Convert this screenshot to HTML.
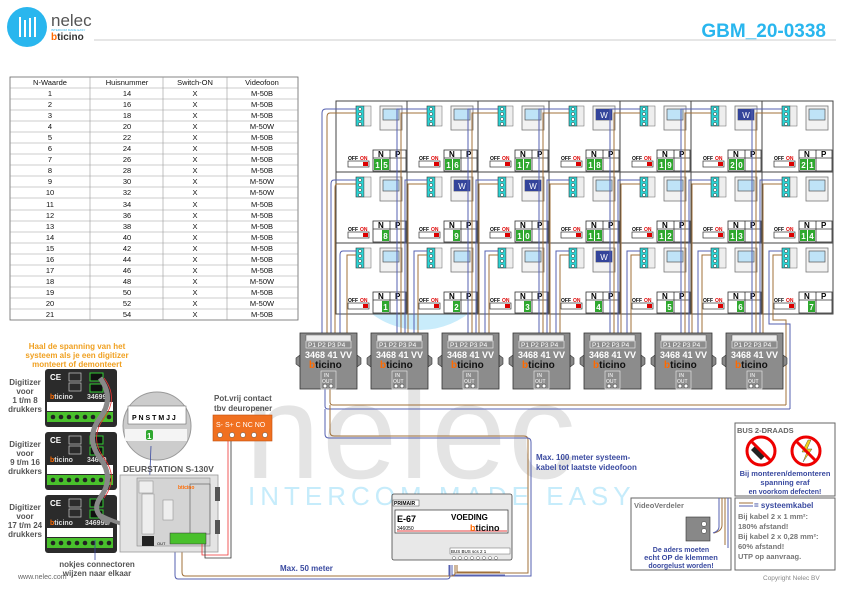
<!DOCTYPE html>
<html><head><meta charset="utf-8"><style>
html,body{margin:0;padding:0;background:#fff}
svg{display:block}
text{font-family:"Liberation Sans",Arial,sans-serif}
</style></head><body>
<svg width="841" height="595" viewBox="0 0 841 595" xmlns="http://www.w3.org/2000/svg">
<defs>
<g id="cell">
  <rect x="0" y="0" width="71" height="71" fill="#fff" stroke="#444" stroke-width="1"/>
  <rect x="20" y="5" width="8" height="20" fill="#2ad4d4" stroke="#333" stroke-width="0.6"/>
  <circle cx="24" cy="8" r="1.6" fill="#fff" stroke="#333" stroke-width="0.5"/>
  <circle cx="24" cy="13" r="1.6" fill="#fff" stroke="#333" stroke-width="0.5"/>
  <circle cx="24" cy="18" r="1.6" fill="#fff" stroke="#333" stroke-width="0.5"/>
  <circle cx="24" cy="23" r="1.6" fill="#fff" stroke="#333" stroke-width="0.5"/>
  <rect x="28" y="5" width="7" height="20" fill="#eee" stroke="#666" stroke-width="0.5"/>
  <rect x="44" y="5" width="22" height="24" fill="#f2f2f2" stroke="#777" stroke-width="0.8"/>
  <rect x="47" y="8" width="16" height="11" fill="#bfe3f7" stroke="#555" stroke-width="0.7"/>
  <rect x="37" y="49" width="33" height="21" fill="#fff" stroke="#333" stroke-width="0.8"/>
  <line x1="54" y1="49" x2="54" y2="70" stroke="#333" stroke-width="0.8"/>
  <line x1="37" y1="57" x2="70" y2="57" stroke="#333" stroke-width="0.8"/>
  <text x="42" y="56" font-size="8" font-weight="bold">N</text>
  <text x="59" y="56" font-size="8" font-weight="bold">P</text>
  <rect x="12" y="60" width="21" height="6" fill="#fff" stroke="#333" stroke-width="0.7"/>
  <rect x="27" y="61" width="5" height="4" fill="#d00"/>
  <text x="12" y="59" font-size="5" font-weight="bold">OFF</text>
  <text x="24" y="59" font-size="5" font-weight="bold" fill="#d00">ON</text>
</g>
<g id="mod">
  <path d="M0 22 l-4 3 v6 l4 3 Z M57 22 l4 3 v6 l-4 3 Z" fill="#888" stroke="#333" stroke-width="0.6"/>
  <rect x="0" y="0" width="57" height="56" fill="#8c8c8c" stroke="#333" stroke-width="0.8"/>
  <rect x="6" y="2" width="45" height="6" fill="#eee" stroke="#444" stroke-width="0.4"/>
  <rect x="6" y="8" width="45" height="7" fill="#8c8c8c" stroke="#eee" stroke-width="0.6"/>
  <text x="8" y="14" font-size="6.5" fill="#fff">P1 P2 P3 P4</text>
  <text x="5" y="25" font-size="9" font-weight="bold" fill="#fff">3468 41  VV</text>
  <text x="9" y="35" font-size="10" font-weight="bold" fill="#ff6a00">b<tspan fill="#111">ticino</tspan></text>
  <rect x="21" y="38" width="15" height="18" fill="#8c8c8c" stroke="#eee" stroke-width="0.6"/>
  <text x="24" y="44" font-size="5" fill="#fff">IN</text>
  <text x="22" y="50" font-size="5" fill="#fff">OUT</text>
  <circle cx="25" cy="53" r="2" fill="#fff" stroke="#333" stroke-width="0.5"/>
  <circle cx="31" cy="53" r="2" fill="#fff" stroke="#333" stroke-width="0.5"/>
</g>
<g id="dig">
  <rect x="0" y="0" width="72" height="58" rx="3" fill="#2b2b2b"/>
  <text x="5" y="11" font-size="8" font-weight="bold" fill="#fff">CE</text>
  <rect x="24" y="4" width="12" height="8" fill="none" stroke="#ccc" stroke-width="0.7"/>
  <rect x="24" y="14" width="12" height="8" fill="none" stroke="#ccc" stroke-width="0.7"/>
  <rect x="45" y="4" width="13" height="8" fill="#111" stroke="#3c3" stroke-width="1"/>
  <rect x="45" y="15" width="13" height="8" fill="#111" stroke="#3c3" stroke-width="1"/>
  <text x="5" y="30" font-size="7" font-weight="bold" fill="#ff6a00">b<tspan fill="#ddd">ticino</tspan></text>
  <rect x="2" y="33" width="66" height="9" fill="#fff"/>
  <rect x="2" y="43" width="66" height="10" fill="#49c02c"/>
  <g fill="#222"><circle cx="8" cy="48" r="2.3"/><circle cx="16" cy="48" r="2.3"/><circle cx="24" cy="48" r="2.3"/><circle cx="32" cy="48" r="2.3"/><circle cx="40" cy="48" r="2.3"/><circle cx="48" cy="48" r="2.3"/><circle cx="56" cy="48" r="2.3"/><circle cx="64" cy="48" r="2.3"/></g>
</g>
</defs>

<!-- header -->
<circle cx="27" cy="27" r="20" fill="#29b6ee"/>
<path d="M20 17v20M25 20v17M30 18v19M35 17v20" stroke="#fff" stroke-width="2"/>
<text x="51" y="26" font-size="17" fill="#555">nelec</text>
<text x="51" y="31" font-size="3" fill="#29b6ee">INTERCOM MADE EASY</text>
<text x="51" y="40" font-size="10" font-weight="bold" fill="#ff6a00">b<tspan fill="#333">ticino</tspan></text>
<line x1="94" y1="40" x2="836" y2="40" stroke="#ccc" stroke-width="1"/>
<text x="826" y="37" font-size="19" font-weight="bold" fill="#29b6ee" text-anchor="end">GBM_20-0338</text>

<!-- watermark -->
<circle cx="420" cy="250" r="80" fill="#c9ecfb"/>
<text x="245" y="478" font-size="135" fill="#e4e4e4" letter-spacing="2">nelec</text>
<text x="248" y="505" font-size="26" fill="#c6ecfb" letter-spacing="5">INTERCOM MADE EASY</text>

<!-- table -->
<g font-size="7.5" text-anchor="middle" fill="#111">
<rect x="10" y="77" width="288" height="243" fill="#fff" stroke="#666" stroke-width="0.8"/>
<g stroke="#999" stroke-width="0.6">
<line x1="90" y1="77" x2="90" y2="320"/><line x1="163" y1="77" x2="163" y2="320"/><line x1="227" y1="77" x2="227" y2="320"/>
<line x1="10" y1="88" x2="298" y2="88"/><line x1="10" y1="99" x2="298" y2="99"/><line x1="10" y1="110" x2="298" y2="110"/><line x1="10" y1="121" x2="298" y2="121"/><line x1="10" y1="132" x2="298" y2="132"/><line x1="10" y1="143" x2="298" y2="143"/><line x1="10" y1="154" x2="298" y2="154"/><line x1="10" y1="165" x2="298" y2="165"/><line x1="10" y1="176" x2="298" y2="176"/><line x1="10" y1="187" x2="298" y2="187"/><line x1="10" y1="198" x2="298" y2="198"/><line x1="10" y1="210" x2="298" y2="210"/><line x1="10" y1="221" x2="298" y2="221"/><line x1="10" y1="232" x2="298" y2="232"/><line x1="10" y1="243" x2="298" y2="243"/><line x1="10" y1="254" x2="298" y2="254"/><line x1="10" y1="265" x2="298" y2="265"/><line x1="10" y1="276" x2="298" y2="276"/><line x1="10" y1="287" x2="298" y2="287"/><line x1="10" y1="298" x2="298" y2="298"/><line x1="10" y1="309" x2="298" y2="309"/>
</g>
<text x="50" y="85">N-Waarde</text><text x="127" y="85">Huisnummer</text><text x="195" y="85">Switch-ON</text><text x="262" y="85">Videofoon</text>
<text x="50" y="96">1</text><text x="127" y="96">14</text><text x="195" y="96">X</text><text x="262" y="96">M-50B</text>
<text x="50" y="107">2</text><text x="127" y="107">16</text><text x="195" y="107">X</text><text x="262" y="107">M-50B</text>
<text x="50" y="118">3</text><text x="127" y="118">18</text><text x="195" y="118">X</text><text x="262" y="118">M-50B</text>
<text x="50" y="129">4</text><text x="127" y="129">20</text><text x="195" y="129">X</text><text x="262" y="129">M-50W</text>
<text x="50" y="140">5</text><text x="127" y="140">22</text><text x="195" y="140">X</text><text x="262" y="140">M-50B</text>
<text x="50" y="151">6</text><text x="127" y="151">24</text><text x="195" y="151">X</text><text x="262" y="151">M-50B</text>
<text x="50" y="162">7</text><text x="127" y="162">26</text><text x="195" y="162">X</text><text x="262" y="162">M-50B</text>
<text x="50" y="173">8</text><text x="127" y="173">28</text><text x="195" y="173">X</text><text x="262" y="173">M-50B</text>
<text x="50" y="184">9</text><text x="127" y="184">30</text><text x="195" y="184">X</text><text x="262" y="184">M-50W</text>
<text x="50" y="195">10</text><text x="127" y="195">32</text><text x="195" y="195">X</text><text x="262" y="195">M-50W</text>
<text x="50" y="207">11</text><text x="127" y="207">34</text><text x="195" y="207">X</text><text x="262" y="207">M-50B</text>
<text x="50" y="218">12</text><text x="127" y="218">36</text><text x="195" y="218">X</text><text x="262" y="218">M-50B</text>
<text x="50" y="229">13</text><text x="127" y="229">38</text><text x="195" y="229">X</text><text x="262" y="229">M-50B</text>
<text x="50" y="240">14</text><text x="127" y="240">40</text><text x="195" y="240">X</text><text x="262" y="240">M-50B</text>
<text x="50" y="251">15</text><text x="127" y="251">42</text><text x="195" y="251">X</text><text x="262" y="251">M-50B</text>
<text x="50" y="262">16</text><text x="127" y="262">44</text><text x="195" y="262">X</text><text x="262" y="262">M-50B</text>
<text x="50" y="273">17</text><text x="127" y="273">46</text><text x="195" y="273">X</text><text x="262" y="273">M-50B</text>
<text x="50" y="284">18</text><text x="127" y="284">48</text><text x="195" y="284">X</text><text x="262" y="284">M-50W</text>
<text x="50" y="295">19</text><text x="127" y="295">50</text><text x="195" y="295">X</text><text x="262" y="295">M-50B</text>
<text x="50" y="306">20</text><text x="127" y="306">52</text><text x="195" y="306">X</text><text x="262" y="306">M-50W</text>
<text x="50" y="317">21</text><text x="127" y="317">54</text><text x="195" y="317">X</text><text x="262" y="317">M-50B</text>
</g>

<!-- grid cells -->
<g>
<use href="#cell" x="336" y="101"/><use href="#cell" x="407" y="101"/><use href="#cell" x="478" y="101"/><use href="#cell" x="549" y="101"/><use href="#cell" x="620" y="101"/><use href="#cell" x="691" y="101"/><use href="#cell" x="762" y="101"/>
<use href="#cell" x="336" y="172"/><use href="#cell" x="407" y="172"/><use href="#cell" x="478" y="172"/><use href="#cell" x="549" y="172"/><use href="#cell" x="620" y="172"/><use href="#cell" x="691" y="172"/><use href="#cell" x="762" y="172"/>
<use href="#cell" x="336" y="243"/><use href="#cell" x="407" y="243"/><use href="#cell" x="478" y="243"/><use href="#cell" x="549" y="243"/><use href="#cell" x="620" y="243"/><use href="#cell" x="691" y="243"/><use href="#cell" x="762" y="243"/>
</g>
<!-- W screens -->
<g font-size="8" fill="#fff" text-anchor="middle">
<rect x="596" y="109" width="16" height="11" fill="#33449a"/><text x="604" y="118">W</text>
<rect x="738" y="109" width="16" height="11" fill="#33449a"/><text x="746" y="118">W</text>
<rect x="454" y="180" width="16" height="11" fill="#33449a"/><text x="462" y="189">W</text>
<rect x="525" y="180" width="16" height="11" fill="#33449a"/><text x="533" y="189">W</text>
<rect x="596" y="251" width="16" height="11" fill="#33449a"/><text x="604" y="260">W</text>
</g>
<!-- digits -->
<g font-size="8" font-weight="bold" fill="#fff" text-anchor="middle">
<g fill="#2fa82f">
<rect x="374" y="159" width="7" height="11"/><rect x="382" y="159" width="7" height="11"/>
<rect x="445" y="159" width="7" height="11"/><rect x="453" y="159" width="7" height="11"/>
<rect x="516" y="159" width="7" height="11"/><rect x="524" y="159" width="7" height="11"/>
<rect x="587" y="159" width="7" height="11"/><rect x="595" y="159" width="7" height="11"/>
<rect x="658" y="159" width="7" height="11"/><rect x="666" y="159" width="7" height="11"/>
<rect x="729" y="159" width="7" height="11"/><rect x="737" y="159" width="7" height="11"/>
<rect x="800" y="159" width="7" height="11"/><rect x="808" y="159" width="7" height="11"/>
<rect x="382" y="230" width="7" height="11"/>
<rect x="453" y="230" width="7" height="11"/>
<rect x="516" y="230" width="7" height="11"/><rect x="524" y="230" width="7" height="11"/>
<rect x="587" y="230" width="7" height="11"/><rect x="595" y="230" width="7" height="11"/>
<rect x="658" y="230" width="7" height="11"/><rect x="666" y="230" width="7" height="11"/>
<rect x="729" y="230" width="7" height="11"/><rect x="737" y="230" width="7" height="11"/>
<rect x="800" y="230" width="7" height="11"/><rect x="808" y="230" width="7" height="11"/>
<rect x="382" y="301" width="7" height="11"/><rect x="453" y="301" width="7" height="11"/><rect x="524" y="301" width="7" height="11"/><rect x="595" y="301" width="7" height="11"/><rect x="666" y="301" width="7" height="11"/><rect x="737" y="301" width="7" height="11"/><rect x="808" y="301" width="7" height="11"/>
</g>
<text x="377.5" y="168">1</text><text x="385.5" y="168">5</text>
<text x="448.5" y="168">1</text><text x="456.5" y="168">6</text>
<text x="519.5" y="168">1</text><text x="527.5" y="168">7</text>
<text x="590.5" y="168">1</text><text x="598.5" y="168">8</text>
<text x="661.5" y="168">1</text><text x="669.5" y="168">9</text>
<text x="732.5" y="168">2</text><text x="740.5" y="168">0</text>
<text x="803.5" y="168">2</text><text x="811.5" y="168">1</text>
<text x="385.5" y="239">8</text><text x="456.5" y="239">9</text>
<text x="519.5" y="239">1</text><text x="527.5" y="239">0</text>
<text x="590.5" y="239">1</text><text x="598.5" y="239">1</text>
<text x="661.5" y="239">1</text><text x="669.5" y="239">2</text>
<text x="732.5" y="239">1</text><text x="740.5" y="239">3</text>
<text x="803.5" y="239">1</text><text x="811.5" y="239">4</text>
<text x="385.5" y="310">1</text><text x="456.5" y="310">2</text><text x="527.5" y="310">3</text><text x="598.5" y="310">4</text><text x="669.5" y="310">5</text><text x="740.5" y="310">6</text><text x="811.5" y="310">7</text>
</g>

<!-- cell wiring -->
<g fill="none" stroke-width="1">
<g stroke="#5560b0">
<path d="M356 109H326q-4 0-4 4V333"/><path d="M356 180H334q-3 0-3 4V333"/><path d="M356 251H343q-3 0-3 4V333"/>
<path d="M427 109H397V333"/><path d="M427 180H405V333"/><path d="M427 251H414V333"/>
<path d="M498 109H468V333"/><path d="M498 180H476V333"/><path d="M498 251H485V333"/>
<path d="M569 109H539V333"/><path d="M569 180H547V333"/><path d="M569 251H556V333"/>
<path d="M640 109H610V333"/><path d="M640 180H618V333"/><path d="M640 251H627V333"/>
<path d="M711 109H681V333"/><path d="M711 180H689V333"/><path d="M711 251H698V333"/>
<path d="M782 109H752V333"/><path d="M782 180H760V333"/><path d="M782 251H769V324H790V409"/>
</g>
<g stroke="#a0703a">
<path d="M356 113H330q-3 0-3 4V333"/><path d="M356 184H337q-2 0-2 4V333"/><path d="M356 255H347V333"/>
<path d="M427 113H401V333"/><path d="M427 184H408V333"/><path d="M427 255H418V333"/>
<path d="M498 113H472V333"/><path d="M498 184H479V333"/><path d="M498 255H489V333"/>
<path d="M569 113H543V333"/><path d="M569 184H550V333"/><path d="M569 255H560V333"/>
<path d="M640 113H614V333"/><path d="M640 184H621V333"/><path d="M640 255H631V333"/>
<path d="M711 113H685V333"/><path d="M711 184H692V333"/><path d="M711 255H702V333"/>
<path d="M782 113H756V333"/><path d="M782 184H763V333"/><path d="M782 255H773V320H786V405"/>
</g>
<!-- bus -->
<path d="M330 388V402q0 3 3 3H786" stroke="#a0703a"/>
<path d="M325 388V406q0 3 3 3H790" stroke="#5560b0"/>
<path d="M330 405V432q0 4 4 4H524q4 0 4 4V573H455V565" stroke="#a0703a"/>
<path d="M325 409V434q0 4 4 4H527q4 0 4 4V576H449V565" stroke="#5560b0"/>
<path d="M457 565V572H500" stroke="#a0703a"/>
<path d="M452 565V575H505" stroke="#5560b0"/>
<path d="M455 565V573q0 3-3 3H185q-3 0-3-4V545" stroke="#a0703a"/>
<path d="M450 565V576q0 3-3 3H178q-3 0-3-4V545" stroke="#5560b0"/>
</g>

<!-- modules -->
<use href="#mod" x="300" y="333"/><use href="#mod" x="371" y="333"/><use href="#mod" x="442" y="333"/><use href="#mod" x="513" y="333"/><use href="#mod" x="584" y="333"/><use href="#mod" x="655" y="333"/><use href="#mod" x="726" y="333"/>

<!-- left digitizers -->
<text x="77" y="349" font-size="8" font-weight="bold" fill="#f0a020" text-anchor="middle">Haal de spanning van het</text>
<text x="77" y="358" font-size="8" font-weight="bold" fill="#f0a020" text-anchor="middle">systeem als je een digitizer</text>
<text x="77" y="367" font-size="8" font-weight="bold" fill="#f0a020" text-anchor="middle">monteert of demonteert</text>
<use href="#dig" x="45" y="369"/><use href="#dig" x="45" y="432"/><use href="#dig" x="45" y="495"/>
<g font-size="7" font-weight="bold" fill="#ddd"><text x="87" y="399">34699</text><text x="87" y="462">34699</text><text x="85" y="525">346993</text></g>
<g font-size="8" font-weight="bold" fill="#555" text-anchor="middle">
<text x="25" y="385">Digitizer</text><text x="25" y="394">voor</text><text x="25" y="403">1 t/m 8</text><text x="25" y="412">drukkers</text>
<text x="25" y="447">Digitizer</text><text x="25" y="456">voor</text><text x="25" y="465">9 t/m 16</text><text x="25" y="474">drukkers</text>
<text x="25" y="510">Digitizer</text><text x="25" y="519">voor</text><text x="25" y="528">17 t/m 24</text><text x="25" y="537">drukkers</text>
</g>
<path d="M100 378q15 20 0 40q-15 20 0 40q15 20 0 40q-10 15 10 25" fill="none" stroke="#888" stroke-width="5"/>
<path d="M104 378q15 20 0 40q-15 20 0 40q15 20 0 40" fill="none" stroke="#e33" stroke-width="0.8"/>
<path d="M100 515q20 10 45 15" fill="none" stroke="#888" stroke-width="4"/>
<text x="97" y="567" font-size="8" font-weight="bold" fill="#555" text-anchor="middle">nokjes connectoren</text>
<text x="97" y="576" font-size="8" font-weight="bold" fill="#555" text-anchor="middle">wijzen naar elkaar</text>
<line x1="95" y1="540" x2="95" y2="560" stroke="#3a4aa0" stroke-width="0.8"/>
<text x="18" y="579" font-size="7" fill="#666">www.nelec.com</text>

<!-- magnifier -->
<circle cx="157" cy="426" r="34" fill="#ccc" stroke="#999" stroke-width="1"/>
<rect x="128" y="406" width="58" height="18" fill="#fff" stroke="#555" stroke-width="0.5"/>
<text x="132" y="420" font-size="7" font-weight="bold">P  N  S T M J J</text>
<rect x="125" y="429" width="62" height="12" fill="#f4f4f4"/>
<rect x="146" y="430" width="7" height="10" rx="2" fill="#2fa82f"/>
<text x="147" y="439" font-size="8" font-weight="bold" fill="#fff">1</text>
<line x1="151" y1="446" x2="148" y2="520" stroke="#3a4aa0" stroke-width="0.8"/>

<!-- deurstation -->
<text x="123" y="472" font-size="8.5" font-weight="bold" fill="#555">DEURSTATION S-130V</text>
<rect x="120" y="475" width="98" height="77" fill="#e4e4e4" stroke="#999" stroke-width="0.8"/>
<rect x="137" y="478" width="73" height="68" fill="#d4d4d4" stroke="#888" stroke-width="0.6"/>
<rect x="139" y="481" width="14" height="12" fill="#eee" stroke="#888" stroke-width="0.5"/>
<rect x="142" y="494" width="12" height="40" fill="#eee" stroke="#888" stroke-width="0.5"/>
<rect x="163" y="500" width="10" height="20" fill="#eee" stroke="#888" stroke-width="0.5"/>
<rect x="190" y="484" width="20" height="50" fill="none" stroke="#666" stroke-width="0.7"/>
<text x="178" y="489" font-size="5" font-weight="bold" fill="#ff6a00">bticino</text>
<rect x="215" y="487" width="5" height="14" fill="#555"/><rect x="215" y="520" width="5" height="14" fill="#555"/>
<rect x="142" y="536" width="12" height="10" fill="#222"/>
<text x="157" y="545" font-size="4">OUT</text>
<rect x="170" y="533" width="36" height="11" fill="#49c02c" stroke="#333" stroke-width="0.5"/>
<path d="M202 544V555H228V440" fill="none" stroke="#e33" stroke-width="0.8"/>
<path d="M205 544V558H231V440" fill="none" stroke="#333" stroke-width="0.8"/>

<!-- pot vrij -->
<text x="214" y="401" font-size="8" font-weight="bold" fill="#555">Pot.vrij contact</text>
<text x="214" y="411" font-size="8" font-weight="bold" fill="#555">tbv deuropener</text>
<rect x="213" y="415" width="59" height="26" fill="#f07020" stroke="#c05010" stroke-width="0.6"/>
<text x="216" y="427" font-size="7" fill="#fff">S-  S+ C NC NO</text>
<g fill="#fff" stroke="#555" stroke-width="0.5"><circle cx="220" cy="435" r="2.5"/><circle cx="232" cy="435" r="2.5"/><circle cx="243" cy="435" r="2.5"/><circle cx="254" cy="435" r="2.5"/><circle cx="265" cy="435" r="2.5"/></g>

<!-- voeding -->
<rect x="392" y="494" width="120" height="66" rx="2" fill="#e8e8e8" stroke="#444" stroke-width="0.8"/>
<rect x="393" y="500" width="26" height="6" fill="#fff" stroke="#444" stroke-width="0.5"/>
<text x="394" y="505" font-size="5" font-weight="bold">PRIMAIR</text>
<rect x="395" y="510" width="113" height="23" fill="#fff" stroke="#333" stroke-width="0.7"/>
<line x1="397" y1="531" x2="507" y2="531" stroke="#d00" stroke-width="0.8"/>
<text x="397" y="522" font-size="9" font-weight="bold">E-67</text>
<text x="451" y="520" font-size="8" font-weight="bold">VOEDING</text>
<text x="397" y="530" font-size="5">346050</text>
<text x="470" y="531" font-size="9" font-weight="bold" fill="#ff6a00">b<tspan fill="#111">ticino</tspan></text>
<rect x="450" y="548" width="60" height="6" fill="#fff" stroke="#444" stroke-width="0.4"/>
<text x="451" y="553" font-size="4.5">BUS BUS scs 2 1</text>
<g fill="#fff" stroke="#444" stroke-width="0.4"><circle cx="454" cy="558" r="1.5"/><circle cx="460" cy="558" r="1.5"/><circle cx="466" cy="558" r="1.5"/><circle cx="472" cy="558" r="1.5"/><circle cx="478" cy="558" r="1.5"/><circle cx="484" cy="558" r="1.5"/><circle cx="490" cy="558" r="1.5"/><circle cx="496" cy="558" r="1.5"/></g>

<text x="280" y="571" font-size="8" font-weight="bold" fill="#3a4aa0">Max. 50 meter</text>
<text x="536" y="460" font-size="8" font-weight="bold" fill="#3a4aa0">Max. 100 meter systeem-</text>
<text x="536" y="470" font-size="8" font-weight="bold" fill="#3a4aa0">kabel tot laatste videofoon</text>

<!-- right boxes -->
<rect x="735" y="423" width="100" height="73" fill="#fff" stroke="#666" stroke-width="1"/>
<text x="737" y="433" font-size="7.5" font-weight="bold" fill="#666">BUS 2-DRAADS</text>
<circle cx="761" cy="451" r="14" fill="#fff" stroke="#e00" stroke-width="3"/>
<path d="M755 446l10 10-4 4-10-10z" fill="#222"/>
<line x1="751" y1="441" x2="771" y2="461" stroke="#e00" stroke-width="3"/>
<circle cx="806" cy="451" r="14" fill="#fff" stroke="#e00" stroke-width="3"/>
<path d="M808 440l-6 12h5l-4 10 9-13h-5l4-9z" fill="#f2d01a" stroke="#333" stroke-width="0.4"/>
<line x1="796" y1="441" x2="816" y2="461" stroke="#e00" stroke-width="3"/>
<text x="785" y="476" font-size="7.5" font-weight="bold" fill="#3a4aa0" text-anchor="middle">Bij monteren/demonteren</text>
<text x="785" y="485" font-size="7.5" font-weight="bold" fill="#3a4aa0" text-anchor="middle">spanning eraf</text>
<text x="785" y="494" font-size="7" font-weight="bold" fill="#3a4aa0" text-anchor="middle">en voorkom defecten!</text>

<rect x="735" y="498" width="100" height="72" fill="#fff" stroke="#666" stroke-width="1"/>
<line x1="739" y1="503" x2="753" y2="503" stroke="#a0703a" stroke-width="1"/>
<line x1="739" y1="506" x2="753" y2="506" stroke="#5560b0" stroke-width="1"/>
<text x="754" y="508" font-size="8" font-weight="bold" fill="#3a4aa0">= systeemkabel</text>
<g font-size="7.5" font-weight="bold" fill="#777">
<text x="738" y="519">Bij kabel 2 x 1 mm²:</text>
<text x="738" y="529">180% afstand!</text>
<text x="738" y="539">Bij kabel 2 x 0,28 mm²:</text>
<text x="738" y="549">60% afstand!</text>
<text x="738" y="559">UTP op aanvraag.</text>
</g>

<rect x="631" y="498" width="100" height="72" fill="#fff" stroke="#666" stroke-width="1"/>
<text x="634" y="508" font-size="7.5" font-weight="bold" fill="#777">VideoVerdeler</text>
<path d="M722 498V525q0 6-8 8 M725 498V545" fill="none" stroke="#a0703a" stroke-width="1"/>
<path d="M719 498V527q0 4-6 6 M728 498V548" fill="none" stroke="#5560b0" stroke-width="1"/>
<rect x="686" y="517" width="24" height="24" fill="#888" stroke="#333" stroke-width="0.6"/>
<circle cx="704" cy="524" r="2.5" fill="#fff" stroke="#333" stroke-width="0.5"/>
<circle cx="704" cy="531" r="2.5" fill="#fff" stroke="#333" stroke-width="0.5"/>
<text x="681" y="552" font-size="7" font-weight="bold" fill="#3a4aa0" text-anchor="middle">De aders moeten</text>
<text x="681" y="560" font-size="7.5" font-weight="bold" fill="#3a4aa0" text-anchor="middle">echt OP de klemmen</text>
<text x="681" y="568" font-size="7" font-weight="bold" fill="#3a4aa0" text-anchor="middle">doorgelust worden!</text>

<text x="763" y="580" font-size="6.5" fill="#888">Copyright Nelec BV</text>
</svg>
</body></html>
